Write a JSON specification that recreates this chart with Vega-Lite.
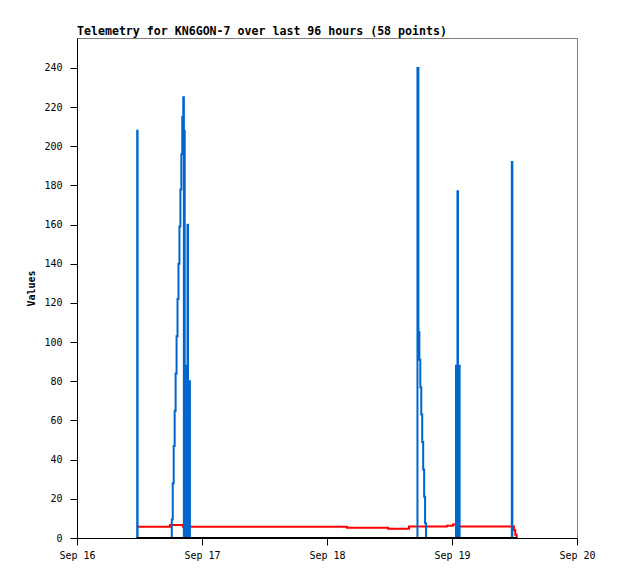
{
  "$schema": "https://vega.github.io/schema/vega-lite/v6.json",
  "width": 500,
  "height": 500,
  "autosize": "none",
  "padding": {"left": 77, "top": 38, "right": 41, "bottom": 41},
  "background": "white",
  "config": {
    "view": {"stroke": "#808080", "strokeWidth": 1},
    "font": "DejaVu Sans Mono"
  },
  "title": {
    "text": "Telemetry for KN6GON-7 over last 96 hours (58 points)",
    "anchor": "start",
    "frame": "group",
    "font": "DejaVu Sans Mono",
    "fontSize": 11.6,
    "fontWeight": "bold",
    "color": "black",
    "offset": 0
  },
  "datasets": {
    "red": [
      {"t": "2024-09-16T11:28:54", "v": 5.7},
      {"t": "2024-09-16T17:51:00", "v": 6.7},
      {"t": "2024-09-16T20:21:00", "v": 5.7},
      {"t": "2024-09-18T03:50:00", "v": 5.2},
      {"t": "2024-09-18T11:43:00", "v": 4.7},
      {"t": "2024-09-18T15:45:00", "v": 5.9},
      {"t": "2024-09-18T23:02:00", "v": 6.2},
      {"t": "2024-09-19T00:11:00", "v": 6.9},
      {"t": "2024-09-19T00:46:00", "v": 5.9},
      {"t": "2024-09-19T11:54:00", "v": 4.1},
      {"t": "2024-09-19T12:09:00", "v": 1.7},
      {"t": "2024-09-19T12:25:00", "v": 0.7},
      {"t": "2024-09-19T12:35:00", "v": 0.7}
    ],
    "blue": [
      {"t": "2024-09-16T11:28:54", "v": 0},
      {"t": "2024-09-16T11:33:30", "v": 208},
      {"t": "2024-09-16T11:38:06", "v": 0},
      {"t": "2024-09-16T18:12:00", "v": 9.5},
      {"t": "2024-09-16T18:23:00", "v": 28},
      {"t": "2024-09-16T18:34:00", "v": 47},
      {"t": "2024-09-16T18:45:00", "v": 65},
      {"t": "2024-09-16T18:56:00", "v": 84},
      {"t": "2024-09-16T19:07:00", "v": 103},
      {"t": "2024-09-16T19:18:00", "v": 122},
      {"t": "2024-09-16T19:29:00", "v": 140},
      {"t": "2024-09-16T19:40:00", "v": 159},
      {"t": "2024-09-16T19:51:00", "v": 178},
      {"t": "2024-09-16T20:02:00", "v": 196},
      {"t": "2024-09-16T20:13:00", "v": 215},
      {"t": "2024-09-16T20:24:00", "v": 225},
      {"t": "2024-09-16T20:31:00", "v": 0},
      {"t": "2024-09-16T20:35:00", "v": 208},
      {"t": "2024-09-16T20:41:00", "v": 0},
      {"t": "2024-09-16T20:45:00", "v": 88},
      {"t": "2024-09-16T20:51:00", "v": 0},
      {"t": "2024-09-16T20:56:00", "v": 80},
      {"t": "2024-09-16T21:02:00", "v": 0},
      {"t": "2024-09-16T21:07:00", "v": 80},
      {"t": "2024-09-16T21:13:00", "v": 160},
      {"t": "2024-09-16T21:19:00", "v": 0},
      {"t": "2024-09-16T21:24:00", "v": 80},
      {"t": "2024-09-16T21:30:00", "v": 0},
      {"t": "2024-09-16T21:35:00", "v": 80},
      {"t": "2024-09-16T21:41:00", "v": 0},
      {"t": "2024-09-18T17:22:00", "v": 240},
      {"t": "2024-09-18T17:33:00", "v": 105},
      {"t": "2024-09-18T17:44:00", "v": 91},
      {"t": "2024-09-18T17:55:00", "v": 77},
      {"t": "2024-09-18T18:06:00", "v": 63},
      {"t": "2024-09-18T18:17:00", "v": 49},
      {"t": "2024-09-18T18:28:00", "v": 35},
      {"t": "2024-09-18T18:39:00", "v": 21},
      {"t": "2024-09-18T18:50:00", "v": 7.5},
      {"t": "2024-09-18T19:01:00", "v": 0},
      {"t": "2024-09-19T00:46:00", "v": 88},
      {"t": "2024-09-19T00:52:00", "v": 0},
      {"t": "2024-09-19T00:55:00", "v": 88},
      {"t": "2024-09-19T01:00:00", "v": 0},
      {"t": "2024-09-19T01:03:00", "v": 177},
      {"t": "2024-09-19T01:09:00", "v": 0},
      {"t": "2024-09-19T01:13:00", "v": 88},
      {"t": "2024-09-19T01:19:00", "v": 0},
      {"t": "2024-09-19T01:23:00", "v": 88},
      {"t": "2024-09-19T01:28:00", "v": 0},
      {"t": "2024-09-19T11:29:00", "v": 192},
      {"t": "2024-09-19T11:35:00", "v": 0}
    ],
    "black": [
      {"t": "2024-09-16T11:28:54", "v": 0},
      {"t": "2024-09-19T12:35:00", "v": 0}
    ]
  },
  "encoding": {
    "x": {
      "field": "t",
      "type": "temporal",
      "scale": {
        "domain": [
          {"year": 2024, "month": "sep", "date": 16},
          {"year": 2024, "month": "sep", "date": 20}
        ],
        "nice": false
      },
      "axis": {
        "title": null,
        "format": "%b %d",
        "tickCount": {"interval": "day", "step": 1},
        "grid": false,
        "domainColor": "black",
        "domainWidth": 1,
        "tickColor": "black",
        "tickSize": 7,
        "labelFont": "DejaVu Sans Mono",
        "labelFontSize": 10,
        "labelColor": "black",
        "labelPadding": 5,
        "labelFlush": false,
        "labelOverlap": false,
        "zindex": 1
      }
    },
    "y": {
      "field": "v",
      "type": "quantitative",
      "scale": {"domain": [0, 255.3], "nice": false, "zero": true},
      "axis": {
        "title": "Values",
        "values": [0, 20, 40, 60, 80, 100, 120, 140, 160, 180, 200, 220, 240],
        "grid": false,
        "domainColor": "black",
        "domainWidth": 1,
        "tickColor": "black",
        "tickSize": 7,
        "labelFont": "DejaVu Sans Mono",
        "labelFontSize": 10,
        "labelColor": "black",
        "labelPadding": 8,
        "titleFont": "DejaVu Sans Mono",
        "titleFontSize": 10,
        "titleFontWeight": "bold",
        "titleColor": "black",
        "titleAngle": -90,
        "titleAlign": "center",
        "titleBaseline": "middle",
        "titleX": -45.5,
        "titleY": 250,
        "zindex": 1
      }
    }
  },
  "layer": [
    {
      "data": {"name": "red"},
      "mark": {"type": "line", "interpolate": "step-after", "color": "#ff0000", "strokeWidth": 2}
    },
    {
      "data": {"name": "blue"},
      "mark": {"type": "line", "interpolate": "step-after", "color": "#0066cc", "strokeWidth": 2}
    },
    {
      "data": {"name": "black"},
      "mark": {"type": "line", "interpolate": "step-after", "color": "#000000", "strokeWidth": 2}
    }
  ]
}
